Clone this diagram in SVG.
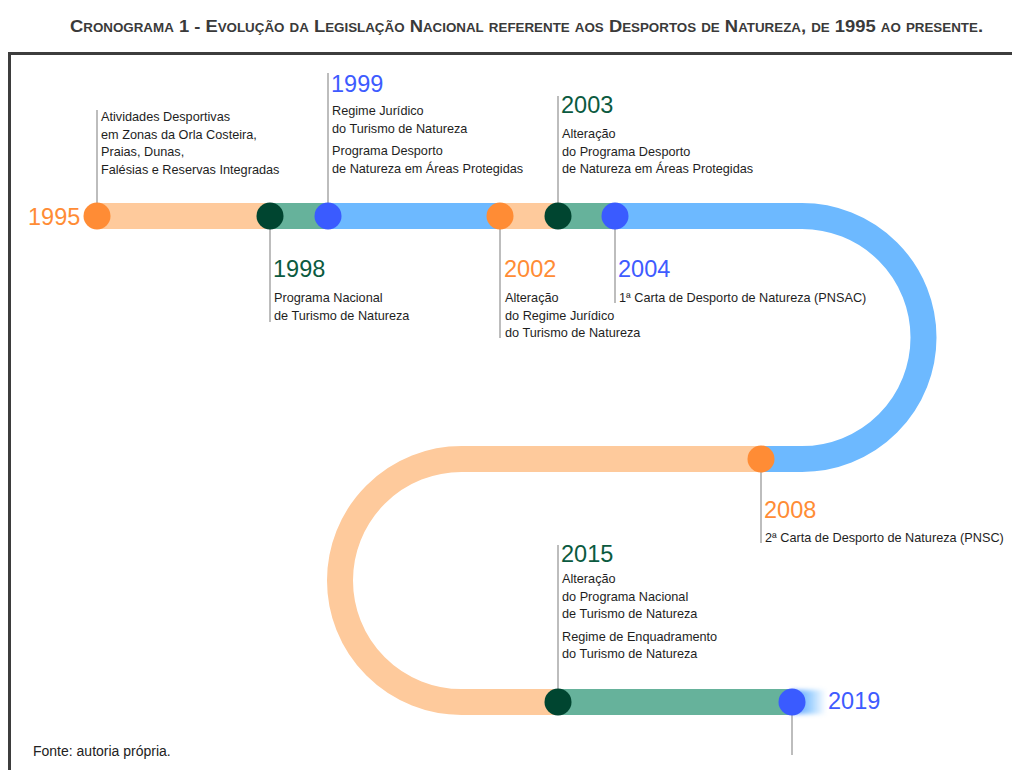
<svg xmlns="http://www.w3.org/2000/svg" width="1012" height="770" viewBox="0 0 1012 770">
<style>
  .t { font-family: "Liberation Sans", Arial, sans-serif; font-size: 12.7px; fill: #1e1e1e; }
  .yr { font-family: "Liberation Sans", Arial, sans-serif; font-size: 23.5px; }
  .org { fill: #FF8C35; }
  .grn { fill: #0B5A40; }
  .blu { fill: #3E5BFF; }
  .lead { stroke: #9a9a9a; stroke-width: 1.3; fill: none; }
  .band { fill: none; stroke-width: 26; stroke-linecap: butt; }
  .peach { stroke: #FECA9C; }
  .green { stroke: #66B29B; }
  .blue { stroke: #6DB9FF; }
  .c-org { fill: #FF8C35; }
  .c-grn { fill: #004530; }
  .c-blu { fill: #3A5BFF; }
</style>
<defs>
  <linearGradient id="glow" x1="0" y1="0" x2="1" y2="0">
    <stop offset="0" stop-color="#4F8DFF" stop-opacity="1"/>
    <stop offset="0.5" stop-color="#6DB9FF" stop-opacity="0.7"/>
    <stop offset="1" stop-color="#6DB9FF" stop-opacity="0"/>
  </linearGradient>
  <filter id="soft" x="-0.5" y="-0.5" width="2" height="2">
    <feGaussianBlur stdDeviation="2"/>
  </filter>
</defs>
<rect width="1012" height="770" fill="#ffffff"/>
<text x="70" y="32" textLength="913" lengthAdjust="spacingAndGlyphs" style="font-family:'Liberation Sans',Arial,sans-serif;font-size:16.5px;font-weight:bold;font-variant:small-caps;fill:#3a3a3a">Cronograma 1 - Evolução da Legislação Nacional referente aos Desportos de Natureza, de 1995 ao presente.</text>
<path d="M9.5 770 V53.5 H1012" fill="none" stroke="#3d3d3d" stroke-width="3"/>

<g id="track">
  <path class="band peach" d="M97 216 H270"/>
  <path class="band green" d="M270 216 H328"/>
  <path class="band blue" d="M328 216 H500"/>
  <path class="band peach" d="M500 216 H558"/>
  <path class="band green" d="M558 216 H615"/>
  <path class="band blue" d="M615 216 H802 A121.5 121.5 0 0 1 802 459 H761"/>
  <path class="band peach" d="M761 459 H461.5 A121.5 121.5 0 0 0 461.5 702 H558"/>
  <path class="band green" d="M558 702 H792"/>
  <rect x="792" y="690" width="34" height="24" fill="url(#glow)" filter="url(#soft)"/>
</g>

<g id="connectors">
  <path class="lead" d="M97 110 V216"/>
  <path class="lead" d="M270 216 V322"/>
  <path class="lead" d="M328 73 V216"/>
  <path class="lead" d="M500 216 V338"/>
  <path class="lead" d="M558 96 V216"/>
  <path class="lead" d="M615 216 V303"/>
  <path class="lead" d="M761 459 V543"/>
  <path class="lead" d="M558 545 V702"/>
  <path class="lead" d="M792 702 V755"/>
</g>

<g id="n1995">
  <circle class="c-org" cx="97" cy="216" r="13.5"/>
  <text class="yr org" x="28" y="225">1995</text>
  <text class="t" x="101" y="121">Atividades Desportivas</text>
  <text class="t" x="101" y="138.5">em Zonas da Orla Costeira,</text>
  <text class="t" x="101" y="156">Praias, Dunas,</text>
  <text class="t" x="101" y="173.5">Falésias e Reservas Integradas</text>
</g>
<g id="n1998">
  <circle class="c-grn" cx="270" cy="216" r="13.5"/>
  <text class="yr grn" x="273" y="277">1998</text>
  <text class="t" x="274" y="302">Programa Nacional</text>
  <text class="t" x="274" y="319.5">de Turismo de Natureza</text>
</g>
<g id="n1999">
  <circle class="c-blu" cx="328" cy="216" r="13.5"/>
  <text class="yr blu" x="331" y="92">1999</text>
  <text class="t" x="332" y="115">Regime Jurídico</text>
  <text class="t" x="332" y="133">do Turismo de Natureza</text>
  <text class="t" x="332" y="155">Programa Desporto</text>
  <text class="t" x="332" y="173">de Natureza em Áreas Protegidas</text>
</g>
<g id="n2002">
  <circle class="c-org" cx="500" cy="216" r="13.5"/>
  <text class="yr org" x="504" y="277">2002</text>
  <text class="t" x="505" y="302">Alteração</text>
  <text class="t" x="505" y="320">do Regime Jurídico</text>
  <text class="t" x="505" y="337">do Turismo de Natureza</text>
</g>
<g id="n2003">
  <circle class="c-grn" cx="558" cy="216" r="13.5"/>
  <text class="yr grn" x="561" y="113">2003</text>
  <text class="t" x="562" y="138">Alteração</text>
  <text class="t" x="562" y="155.5">do Programa Desporto</text>
  <text class="t" x="562" y="173">de Natureza em Áreas Protegidas</text>
</g>
<g id="n2004">
  <circle class="c-blu" cx="615" cy="216" r="13.5"/>
  <text class="yr blu" x="618" y="277">2004</text>
  <text class="t" x="619" y="302">1ª Carta de Desporto de Natureza (PNSAC)</text>
</g>
<g id="n2008">
  <circle class="c-org" cx="761" cy="459" r="13.5"/>
  <text class="yr org" x="764" y="518">2008</text>
  <text class="t" x="765" y="542">2ª Carta de Desporto de Natureza (PNSC)</text>
</g>
<g id="n2015">
  <circle class="c-grn" cx="558" cy="702" r="13.5"/>
  <text class="yr grn" x="561" y="562">2015</text>
  <text class="t" x="562" y="583">Alteração</text>
  <text class="t" x="562" y="601">do Programa Nacional</text>
  <text class="t" x="562" y="618">de Turismo de Natureza</text>
  <text class="t" x="562" y="641">Regime de Enquadramento</text>
  <text class="t" x="562" y="658">do Turismo de Natureza</text>
</g>
<g id="n2019">
  <circle class="c-blu" cx="792" cy="702" r="13.5"/>
  <text class="yr blu" x="828" y="709">2019</text>
</g>
<text x="33" y="756" style="font-family:'Liberation Sans',Arial,sans-serif;font-size:14px;fill:#222">Fonte: autoria própria.</text>
</svg>
